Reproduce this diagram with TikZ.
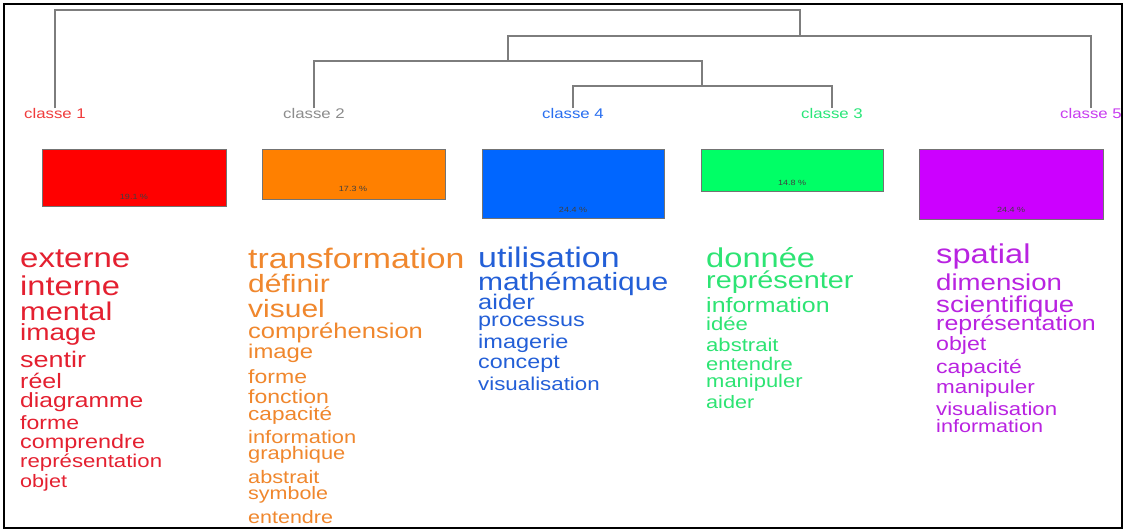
\documentclass[tikz,border=0pt]{standalone}
\usepackage{fontspec}
\setmainfont{Liberation Sans}
\usepackage{graphicx}
\definecolor{cRed}{RGB}{255,0,0}
\definecolor{cOrange}{RGB}{255,128,0}
\definecolor{cBlue}{RGB}{0,102,255}
\definecolor{cGreen}{RGB}{0,255,102}
\definecolor{cPurple}{RGB}{204,0,255}
\definecolor{wRed}{RGB}{228,32,48}
\definecolor{wOrange}{RGB}{240,135,45}
\definecolor{wBlue}{RGB}{35,95,215}
\definecolor{wGreen}{RGB}{45,228,115}
\definecolor{wPurple}{RGB}{185,35,225}
\definecolor{lRed}{RGB}{240,60,60}
\definecolor{lGray}{RGB}{140,140,140}
\definecolor{lBlue}{RGB}{40,110,240}
\definecolor{lGreen}{RGB}{40,230,120}
\definecolor{lPurple}{RGB}{200,60,240}
\definecolor{dend}{RGB}{125,125,125}
\newcommand\sx[1]{\scalebox{1.2}[1]{#1}}
\tikzset{
  word/.style={anchor=base west, inner sep=0pt, font=\fontsize{#1}{#1}\selectfont},
  clabel/.style={anchor=north, inner sep=0pt, font=\fontsize{14}{14}\selectfont},
  bar/.style={draw=black!55, line width=0.8pt, anchor=north west, inner sep=0pt},
  pct/.style={inner sep=0pt, text=black!75, font=\fontsize{7.5}{7.5}\selectfont},
  dendline/.style={draw=dend, line width=1.8pt},
}
\begin{document}
\begin{tikzpicture}[x=1pt,y=-1pt]
\useasboundingbox (0,0) rectangle (1126,531);
\fill[white] (0,0) rectangle (1126,531);
\draw[line width=2.5pt] (4,4) rectangle (1122,528);

% class labels
\node[clabel, text=lRed] (l1) at (55,108) {\sx{classe 1}};
\node[clabel, text=lGray] (l2) at (314,108) {\sx{classe 2}};
\node[clabel, text=lBlue] (l4) at (573,108) {\sx{classe 4}};
\node[clabel, text=lGreen] (l3) at (832,108) {\sx{classe 3}};
\node[clabel, text=lPurple] (l5) at (1091,108) {\sx{classe 5}};

% dendrogram
\coordinate (m4) at (702,86);
\coordinate (m2) at (508,61);
\coordinate (m5) at (800,36);
\coordinate (m1) at (430,10);
\draw[dendline] (l4.north) |- (m4) -| (l3.north);
\draw[dendline] (l2.north) |- (m2) -| (m4);
\draw[dendline] (m2) |- (m5) -| (l5.north);
\draw[dendline] (l1.north) |- (m1) -| (m5);

% bars
\node[bar, fill=cRed, minimum width=184pt, minimum height=57pt] (b1) at (42,149) {};
\node[bar, fill=cOrange, minimum width=183pt, minimum height=50pt] (b2) at (262,149) {};
\node[bar, fill=cBlue, minimum width=182pt, minimum height=69pt] (b4) at (482,149) {};
\node[bar, fill=cGreen, minimum width=182pt, minimum height=42pt] (b3) at (701,149) {};
\node[bar, fill=cPurple, minimum width=184pt, minimum height=70pt] (b5) at (919,149) {};
\node[pct] (p1) at (134,197) {\sx{19.1 \%}};
\node[pct] (p2) at (353,189) {\sx{17.3 \%}};
\node[pct] (p4) at (573,210) {\sx{24.4 \%}};
\node[pct] (p3) at (792,183) {\sx{14.8 \%}};
\node[pct] (p5) at (1011,210) {\sx{24.4 \%}};

% classe 1 words
\begin{scope}[text=wRed]
\node[word=27.5] (r1) at (20,267) {\sx{externe}};
\node[word=27.2] (r2) at (20,295) {\sx{interne}};
\node[word=25.6] (r3) at (20,320) {\sx{mental}};
\node[word=23.3] (r4) at (20,340) {\sx{image}};
\node[word=22.5] (r5) at (20,367) {\sx{sentir}};
\node[word=20.8] (r6) at (20,388) {\sx{réel}};
\node[word=20.5] (r7) at (20,407) {\sx{diagramme}};
\node[word=19.2] (r8) at (20,429) {\sx{forme}};
\node[word=19.5] (r9) at (20,448) {\sx{comprendre}};
\node[word=18.5] (r10) at (20,467) {\sx{représentation}};
\node[word=18] (r11) at (20,487) {\sx{objet}};
\end{scope}

% classe 2 words
\begin{scope}[text=wOrange]
\node[word=28.2] (o1) at (248,268) {\sx{transformation}};
\node[word=25] (o2) at (248,292) {\sx{définir}};
\node[word=25] (o3) at (248,317) {\sx{visuel}};
\node[word=21.3] (o4) at (248,338) {\sx{compréhension}};
\node[word=19.9] (o5) at (248,358) {\sx{image}};
\node[word=19.2] (o6) at (248,383) {\sx{forme}};
\node[word=19.2] (o7) at (248,403) {\sx{fonction}};
\node[word=18.8] (o8) at (248,420) {\sx{capacité}};
\node[word=18.2] (o9) at (248,443) {\sx{information}};
\node[word=18.2] (o10) at (248,459) {\sx{graphique}};
\node[word=18.1] (o11) at (248,483) {\sx{abstrait}};
\node[word=17.9] (o12) at (248,499) {\sx{symbole}};
\node[word=17.9] (o13) at (248,523) {\sx{entendre}};
\end{scope}

% classe 4 words
\begin{scope}[text=wBlue]
\node[word=28.3] (u1) at (478,267) {\sx{utilisation}};
\node[word=25] (u2) at (478,290) {\sx{mathématique}};
\node[word=21.2] (u3) at (478,309) {\sx{aider}};
\node[word=19.5] (u4) at (478,326) {\sx{processus}};
\node[word=19.6] (u5) at (478,348) {\sx{imagerie}};
\node[word=19.4] (u6) at (478,368) {\sx{concept}};
\node[word=18.6] (u7) at (478,390) {\sx{visualisation}};
\end{scope}

% classe 3 words
\begin{scope}[text=wGreen]
\node[word=27.2] (g1) at (706,267) {\sx{donnée}};
\node[word=24] (g2) at (706,288) {\sx{représenter}};
\node[word=20.8] (g3) at (706,312) {\sx{information}};
\node[word=18.4] (g4) at (706,330) {\sx{idée}};
\node[word=18.4] (g5) at (706,351) {\sx{abstrait}};
\node[word=18.3] (g6) at (706,370) {\sx{entendre}};
\node[word=18.3] (g7) at (706,387) {\sx{manipuler}};
\node[word=18] (g8) at (706,408) {\sx{aider}};
\end{scope}

% classe 5 words
\begin{scope}[text=wPurple]
\node[word=27.2] (s1) at (936,263) {\sx{spatial}};
\node[word=23] (s2) at (936,290) {\sx{dimension}};
\node[word=23] (s3) at (936,312) {\sx{scientifique}};
\node[word=20.8] (s4) at (936,330) {\sx{représentation}};
\node[word=19.3] (s5) at (936,350) {\sx{objet}};
\node[word=19.2] (s6) at (936,373) {\sx{capacité}};
\node[word=18.7] (s7) at (936,393) {\sx{manipuler}};
\node[word=18.5] (s8) at (936,415) {\sx{visualisation}};
\node[word=18] (s9) at (936,432) {\sx{information}};
\end{scope}
\end{tikzpicture}
\end{document}
